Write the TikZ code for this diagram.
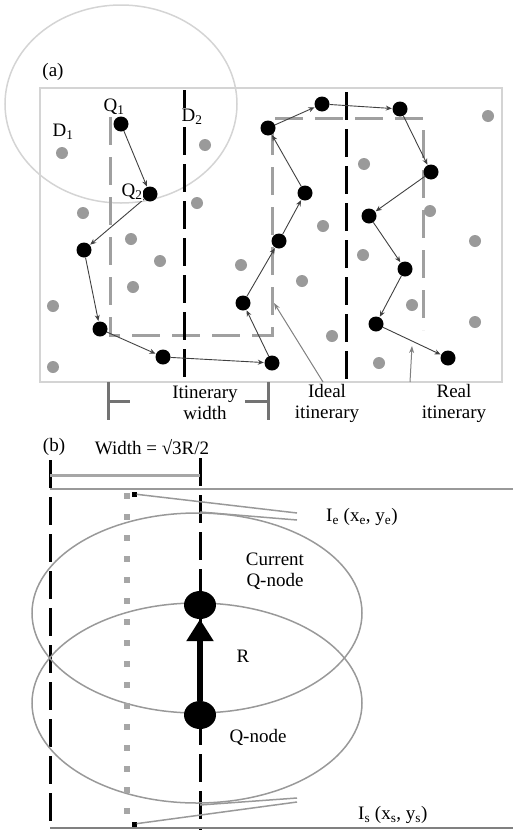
\documentclass[tikz,border=0pt]{standalone}
\usepackage{fontspec}
\setmainfont{Liberation Serif}
\usetikzlibrary{arrows.meta,shapes.geometric}
\definecolor{dotgray}{HTML}{9A9A9A}
\definecolor{framegray}{HTML}{D4D4D4}
\definecolor{idealgray}{HTML}{A0A0A0}
\definecolor{linegray}{HTML}{999999}
\begin{document}
\begin{tikzpicture}[x=1pt,y=-1pt,
  every node/.style={font=\fontsize{19}{21}\selectfont},
  qnode/.style={circle, fill=black, inner sep=0pt, minimum size=15pt},
  gdot/.style={circle, fill=dotgray, inner sep=0pt, minimum size=12pt},
  hop/.style={draw=black!75, line width=0.9pt, -{Stealth[length=6pt,width=5pt]}, shorten >=0.5pt},
  idealpath/.style={draw=idealgray, line width=3pt, dash pattern=on 28pt off 12pt},
  axisline/.style={draw=black, line width=3pt, dash pattern=on 28pt off 9pt},
  lbl/.style={inner sep=1pt},
  wlbl/.style={fill=white, inner sep=2pt},
  ptrline/.style={draw=black!50, line width=1pt, -{Stealth[length=7pt,width=5pt]}},
  brackline/.style={draw=black!55, line width=3pt},
  bignode/.style={ellipse, fill=black, inner sep=0pt, minimum width=32pt, minimum height=28pt},
  zoneline/.style={draw=linegray, line width=1.5pt},
  dotsq/.style={rectangle, fill=black!35, inner sep=0pt, minimum size=6pt},
  endsq/.style={rectangle, fill=black, inner sep=0pt, minimum size=5pt},
  calloutline/.style={draw=linegray, line width=1.5pt}
]
\useasboundingbox (0,0) rectangle (513,830);

% ---------------- (a) ----------------
\draw[framegray, line width=2pt] (40,88) rectangle (502,382);
\draw[framegray, line width=1.5pt] (121,104) ellipse [x radius=116, y radius=99];

\draw[idealpath] (110,117) -- (110,335) -- (272,335) -- (272,118) -- (423,118) -- (423,330);

\draw[axisline] (184,90) -- (184,378);
\draw[axisline] (346,92) -- (346,382);

% gray sensor dots
\foreach \p/\n in {(62,153)/g1,(205,145)/g2,(197,203)/g3,(83,213)/g4,(131,239)/g5,
  (160,261)/g6,(241,265)/g7,(133,287)/g8,(53,306)/g9,(53,367)/g10,(488,116)/g11,
  (364,164)/g12,(430,211)/g13,(323,226)/g14,(475,241)/g15,(363,255)/g16,
  (302,281)/g17,(412,305)/g18,(475,322)/g19,(332,336)/g20,(379,363)/g21}
  \node[gdot] (\n) at \p {};

% Q-nodes of the real itinerary
\node[qnode] (q1) at (121,124) {};
\node[qnode] (q2) at (150,194) {};
\node[qnode] (n3) at (84,250) {};
\node[qnode] (n4) at (100,329) {};
\node[qnode] (n5) at (163,357) {};
\node[qnode] (n6) at (272,363) {};
\node[qnode] (n7) at (243,303) {};
\node[qnode] (n8) at (279,241) {};
\node[qnode] (n9) at (305,193) {};
\node[qnode] (n10) at (268,128) {};
\node[qnode] (n11) at (322,104) {};
\node[qnode] (n12) at (400,109) {};
\node[qnode] (n13) at (431,172) {};
\node[qnode] (n14) at (369,216) {};
\node[qnode] (n15) at (405,269) {};
\node[qnode] (n16) at (376,324) {};
\node[qnode] (n17) at (448,358) {};

\draw[hop] (q1) -- (q2);
\draw[hop] (q2) -- (n3);
\draw[hop] (n3) -- (n4);
\draw[hop] (n4) -- (n5);
\draw[hop] (n5) -- (n6);
\draw[hop] (n6) -- (n7);
\draw[hop] (n7) -- (n8);
\draw[hop] (n8) -- (n9);
\draw[hop] (n9) -- (n10);
\draw[hop] (n10) -- (n11);
\draw[hop] (n11) -- (n12);
\draw[hop] (n12) -- (n13);
\draw[hop] (n13) -- (n14);
\draw[hop] (n14) -- (n15);
\draw[hop] (n15) -- (n16);
\draw[hop] (n16) -- (n17);

% labels (a)
\node[lbl] (la) at (53,72) {(a)};
\node[lbl] (ld1) at (63,132) {D\textsubscript{1}};
\node[lbl] (lq1) at (114,107) {Q\textsubscript{1}};
\node[wlbl, inner sep=1pt] (ld2) at (192,117) {D\textsubscript{2}};
\node[wlbl, inner sep=1pt] (lq2) at (132,192) {Q\textsubscript{2}};

% itinerary width bracket
\draw[brackline] (108,382) -- (108,420);
\draw[brackline] (108,401) -- (130,401);
\draw[brackline] (268,382) -- (268,420);
\draw[brackline] (245,401) -- (268,401);
\node[wlbl, align=center, inner sep=3pt] (lwidth) at (205,403) {Itinerary\\width};

\node[lbl, align=center] (lideal) at (327,403) {Ideal\\itinerary};
\node[lbl, align=center] (lreal) at (454,403) {Real\\itinerary};
\coordinate (idealfoot) at (323,382);
\coordinate (idealtip) at (274,303);
\coordinate (realfoot) at (410,382);
\coordinate (realtip) at (412,346);
\draw[ptrline] (idealfoot) -- (idealtip);
\draw[ptrline] (realfoot) -- (realtip);

% ---------------- (b) ----------------
\node[lbl] (lb) at (54,447) {(b)};
\node[lbl] (lw) at (152,447) {Width = √3R/2};

\draw[axisline] (50,460) -- (50,830);
\draw[axisline] (200,458) -- (200,830);
\draw[draw=black!35, line width=3pt] (50,475) -- (200,475);
\draw[draw=linegray, line width=2pt] (50,489) -- (513,489);
\draw[draw=black!50, line width=2pt] (50,828) -- (513,828);

\draw[zoneline] (197,613) ellipse [x radius=165, y radius=100];
\draw[zoneline] (197,703) ellipse [x radius=165, y radius=100];

% dotted lane
\foreach \k in {0,...,15}
  \node[dotsq] (sq\k) at (127,{496+21*\k}) {};
\node[endsq] (ie) at (134,494) {};
\node[endsq] (is) at (134,824) {};

\node[lbl, anchor=west] (lie) at (325,517) {I\textsubscript{e} (x\textsubscript{e}, y\textsubscript{e})};
\node[lbl, anchor=west] (lis) at (357,815) {I\textsubscript{s} (x\textsubscript{s}, y\textsubscript{s})};
\coordinate (ieA) at (297,513);
\coordinate (ieB) at (297,520);
\coordinate (ieC) at (200,512);
\coordinate (isA) at (297,802);
\coordinate (isB) at (297,798);
\coordinate (isC) at (200,805);
\draw[calloutline] (ieA) -- (ie);
\draw[calloutline] (ieB) -- (ieC);
\draw[calloutline] (isA) -- (is);
\draw[calloutline] (isB) -- (isC);

\node[bignode] (cq) at (200,605) {};
\node[bignode] (qb) at (200,715) {};
\draw[line width=6pt, -{Triangle[length=22pt,width=26pt]}] (qb) -- (cq);

\node[wlbl, align=center, inner sep=4pt] (lcq) at (275,571) {Current\\Q-node};
\node[lbl] (lr) at (243,656) {R};
\node[lbl] (lqn) at (258,737) {Q-node};
\end{tikzpicture}
\end{document}
